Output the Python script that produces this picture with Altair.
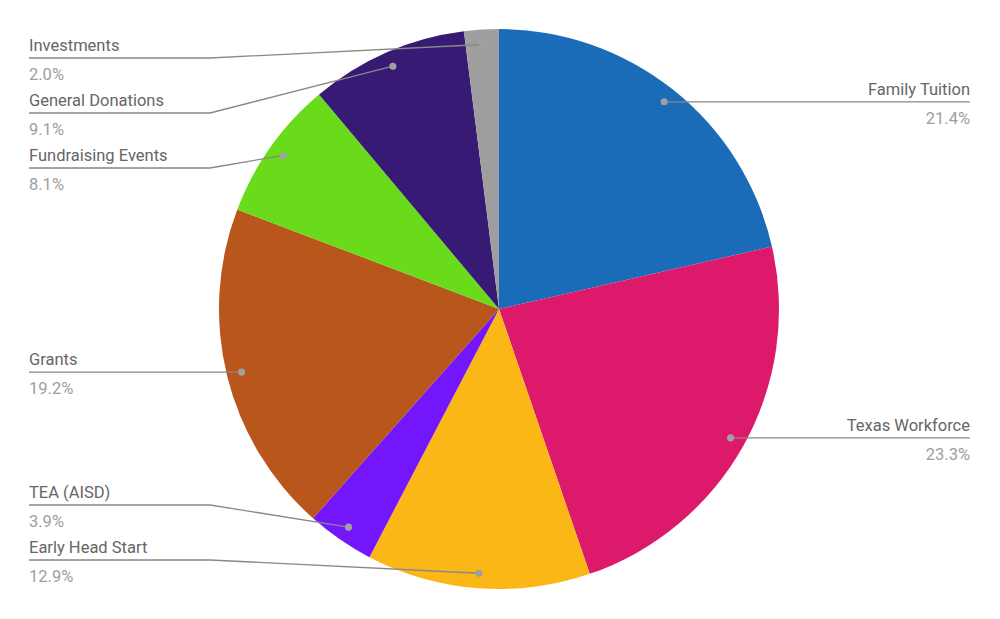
import math
import altair as alt
import pandas as pd

categories = ["Family Tuition", "Texas Workforce", "Early Head Start", "TEA (AISD)",
              "Grants", "Fundraising Events", "General Donations", "Investments"]
values = [21.4, 23.3, 12.9, 3.9, 19.2, 8.1, 9.1, 2.0]
colors = ["#1a6bb8", "#dc196b", "#fbb715", "#7316fb", "#b8561b", "#6adb1a", "#371a74", "#9e9e9e"]

W, H = 984, 603
CX, CY, R, RDOT = 491, 301, 280, 265
LEFT_X, LEFT_BEND = 21, 202
RIGHT_X, RIGHT_BEND = 962, 781
GAP, YMIN, YMAX = 55, 50, 552
FONT = "Roboto"
FS = 16.5

total = sum(values)
rows = []
cum = 0.0
for i, (c, v) in enumerate(zip(categories, values)):
    mid = (cum + v / 2) / total * 2 * math.pi
    cum += v
    rows.append(dict(idx=i, name=c, value=v, pct=f"{v / total * 100:.1f}%",
                     dx=CX + RDOT * math.sin(mid), dy=CY - RDOT * math.cos(mid),
                     side="left" if math.sin(mid) < 0 else "right"))

# label placement with collision avoidance per side
for side in ("left", "right"):
    grp = sorted([r for r in rows if r["side"] == side], key=lambda r: r["dy"])
    prev = None
    for r in grp:
        y = max(r["dy"], YMIN)
        if prev is not None:
            y = max(y, prev + GAP)
        r["ly"] = y
        prev = y
    nxt = None
    for r in reversed(grp):
        y = min(r["ly"], YMAX)
        if nxt is not None:
            y = min(y, nxt - GAP)
        r["ly"] = y
        nxt = y

line_rows = []
for r in rows:
    if r["side"] == "left":
        pts = [(r["dx"], r["dy"]), (LEFT_BEND, r["ly"]), (LEFT_X, r["ly"])]
        tx = LEFT_X
    else:
        pts = [(r["dx"], r["dy"]), (RIGHT_BEND, r["ly"]), (RIGHT_X, r["ly"])]
        tx = RIGHT_X
    r["tx"] = tx
    for k, (x, y) in enumerate(pts):
        line_rows.append(dict(name=r["name"], o=k, x=x, y=y))
df = pd.DataFrame(rows)
df["ny"] = df["ly"] - 7
df["py"] = df["ly"] + 22
lines = pd.DataFrame(line_rows)

xs = alt.Scale(domain=[0, W], range=[0, W])
ys = alt.Scale(domain=[0, H], range=[0, H])

pie = alt.Chart(df).mark_arc(radius=R).encode(
    theta=alt.Theta("value:Q", stack=True),
    color=alt.Color("name:N", scale=alt.Scale(domain=categories, range=colors), legend=None),
    order=alt.Order("idx:Q"),
    x=alt.value(CX), y=alt.value(CY),
)

leader = alt.Chart(lines).mark_line(color="#888888", strokeWidth=1.3).encode(
    x=alt.X("x:Q", scale=xs, axis=None),
    y=alt.Y("y:Q", scale=ys, axis=None),
    detail="name:N",
    order="o:Q",
)

dots = alt.Chart(df).mark_circle(color="#a0a0a0", opacity=1, size=50).encode(
    x=alt.X("dx:Q", scale=xs, axis=None),
    y=alt.Y("dy:Q", scale=ys, axis=None),
)

def texts(side, align):
    base = alt.Chart(df).transform_filter(alt.datum.side == side)
    name = base.mark_text(align=align, baseline="alphabetic", font=FONT,
                          fontSize=FS, color="#666666").encode(
        x=alt.X("tx:Q", scale=xs, axis=None),
        y=alt.Y("ny:Q", scale=ys, axis=None),
        text="name:N",
    )
    pct = base.mark_text(align=align, baseline="alphabetic", font=FONT,
                         fontSize=FS, color="#9e9e9e").encode(
        x=alt.X("tx:Q", scale=xs, axis=None),
        y=alt.Y("py:Q", scale=ys, axis=None),
        text="pct:N",
    )
    return name + pct

chart = alt.layer(pie, leader, dots, texts("left", "left"), texts("right", "right")).properties(
    width=W, height=H, padding=0, autosize="none"
).configure_view(stroke=None)

chart.save("out.html", embed_options={"renderer": "svg", "actions": False})
